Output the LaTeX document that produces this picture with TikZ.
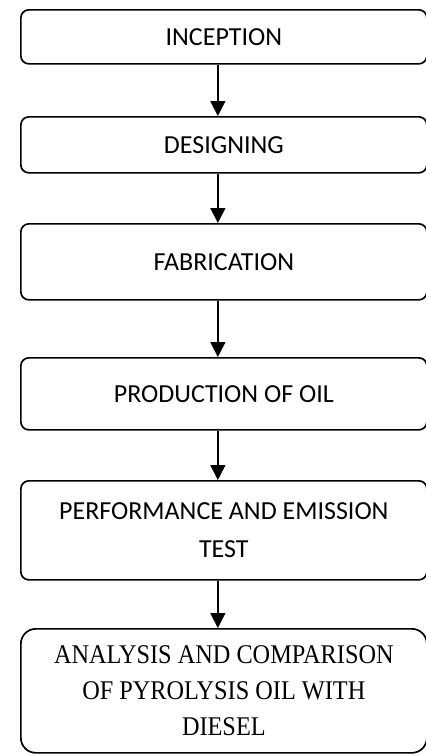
\documentclass[tikz,border=0pt]{standalone}
\usepackage{fontspec}
\setmainfont{Carlito}
\newfontfamily\serifone[FakeStretch=0.9]{Liberation Serif}
\usetikzlibrary{arrows.meta}

\begin{document}
\begin{tikzpicture}[x=0.5pt, y=-0.5pt, line width=0.85pt, >={Triangle[width=7.5pt,length=7.5pt]},
	stage/.style={draw, rounded corners=4pt, minimum width=203pt, anchor=north west, inner sep=0pt, align=center, font=\fontsize{13}{19}\selectfont},
	laststage/.style={stage, rounded corners=7.5pt, font=\serifone\fontsize{13.5}{18}\selectfont}]
	\useasboundingbox (0,0) rectangle (426,755);
	
	% 1. 各阶段方框
	\node[stage, minimum height=27pt] (inc) at (20,9) {INCEPTION};
	\node[stage, minimum height=28pt] (des) at (20,116) {DESIGNING};
	\node[stage, minimum height=38pt] (fab) at (20,223) {FABRICATION};
	\node[stage, minimum height=36pt] (pro) at (20,357) {PRODUCTION OF OIL};
	\node[stage, minimum height=49.5pt] (per) at (20,480) {PERFORMANCE AND EMISSION\\TEST};
	\node[laststage, minimum height=62pt] (ana) at (20,628) {ANALYSIS AND COMPARISON\\OF PYROLYSIS OIL WITH\\DIESEL};
	
	% 2. 箭头
	\foreach \a/\b in {inc/des, des/fab, fab/pro, pro/per, per/ana}
		\draw[->] ([xshift=-3pt]\a.south) -- ([xshift=-3pt]\b.north);
\end{tikzpicture}
\end{document}
